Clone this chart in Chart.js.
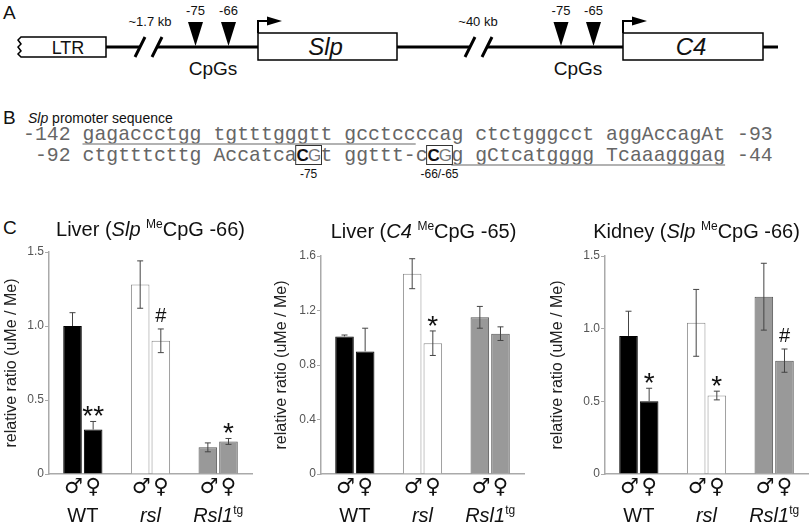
<!DOCTYPE html>
<html>
<head>
<meta charset="utf-8">
<script src="https://cdn.jsdelivr.net/npm/chart.js@4.4.1/dist/chart.umd.min.js"></script>
<style>
  body { margin: 0; background: #fff; }
  #wrap { position: relative; width: 812px; height: 526px; overflow: hidden; font-family: "Liberation Sans", Arial, sans-serif; }
  #wrap canvas { position: absolute; top: 190px; }
  .plbl { position: absolute; font-size: 19px; color: #111; }
</style>
</head>
<body>
<div id="wrap">
  <svg id="diag" width="812" height="190" style="position:absolute;left:0;top:0"></svg>
  <div class="plbl" style="left:3px;top:217px">C</div>
  <canvas id="c1" width="270" height="336" style="left:0"></canvas>
  <canvas id="c2" width="270" height="336" style="left:270px"></canvas>
  <canvas id="c3" width="272" height="336" style="left:540px"></canvas>
</div>
<script>
const FAMILY = '"Liberation Sans", Arial, sans-serif';

// ---- chart data (panel C) ----
const groups = ['WT', 'rsl', 'Rsl1'];
const sexes = ['\u2642', '\u2640'];

const liverSlpMale = [1.00, 1.28, 0.18];
const liverSlpMaleErr = [0.09, 0.16, 0.03];
const liverSlpFemale = [0.30, 0.90, 0.22];
const liverSlpFemaleErr = [0.055, 0.08, 0.02];
const liverSlpMarks = ['**', '#', '*'];

const liverC4Male = [1.01, 1.47, 1.15];
const liverC4MaleErr = [0.01, 0.11, 0.08];
const liverC4Female = [0.90, 0.96, 1.03];
const liverC4FemaleErr = [0.17, 0.09, 0.05];
const liverC4Marks = ['', '*', ''];

const kidneySlpMale = [0.95, 1.04, 1.22];
const kidneySlpMaleErr = [0.17, 0.23, 0.23];
const kidneySlpFemale = [0.50, 0.54, 0.78];
const kidneySlpFemaleErr = [0.09, 0.03, 0.08];
const kidneySlpMarks = ['*', '*', '#'];

const ticks15 = [0, 0.5, 1.0, 1.5];
const ticks16 = [0, 0.4, 0.8, 1.2, 1.6];

const fills = ['#000', '#fff', '#999'];
const strokes = ['#000', '#8a8a8a', '#555'];

// draws text made of pieces: [text, '' | 'i' | 'sup']
function drawRich(ctx, parts, cx, y, size) {
  const fontOf = p => (p[1] === 'i' ? 'italic ' : '') + (p[1] === 'sup' ? Math.round(size * 0.6) : size) + 'px ' + FAMILY;
  let w = 0;
  parts.forEach(p => { ctx.font = fontOf(p); w += ctx.measureText(p[0]).width; });
  let x = cx - w / 2;
  ctx.textAlign = 'left';
  ctx.textBaseline = 'alphabetic';
  parts.forEach(p => {
    ctx.font = fontOf(p);
    ctx.fillText(p[0], x, p[1] === 'sup' ? y - size * 0.38 : y);
    x += ctx.measureText(p[0]).width;
  });
}

const groupParts = [[['WT', '']], [['rsl', 'i']], [['Rsl1', 'i'], ['tg', 'sup']]];

const panelPlugin = {
  id: 'panelPlugin',
  afterDatasetsDraw(chart) {
    const ctx = chart.ctx, y = chart.scales.y;
    chart.data.datasets.forEach((ds, di) => {
      chart.getDatasetMeta(di).data.forEach((bar, i) => {
        const v = ds.data[i], e = ds.errors[i];
        const top = y.getPixelForValue(v + e);
        // on the black bars only the upper whisker shows
        const dark = fills[i] === '#000';
        const bot = dark ? bar.y : y.getPixelForValue(v - e);
        ctx.save();
        ctx.strokeStyle = '#444';
        ctx.lineWidth = 1;
        ctx.beginPath();
        ctx.moveTo(bar.x, top); ctx.lineTo(bar.x, bot);
        ctx.moveTo(bar.x - 3, top); ctx.lineTo(bar.x + 3, top);
        if (!dark) { ctx.moveTo(bar.x - 3, bot); ctx.lineTo(bar.x + 3, bot); }
        ctx.stroke();
        const m = ds.marks[i];
        if (m) {
          const size = m === '#' ? 20 : 28;
          ctx.font = size + 'px ' + FAMILY;
          ctx.fillStyle = '#111';
          ctx.textAlign = 'center';
          ctx.textBaseline = 'alphabetic';
          const mt = ctx.measureText(m);
          const gap = m === '#' ? 7 : 5;
          ctx.fillText(m, bar.x, top - gap - mt.actualBoundingBoxDescent);
        }
        ctx.restore();
      });
    });
  },
  afterDraw(chart, args, opts) {
    const ctx = chart.ctx, area = chart.chartArea, x = chart.scales.x;
    ctx.save();
    ctx.fillStyle = '#111';
    drawRich(ctx, opts.title, (area.left + area.right) / 2 + (opts.titleDx || 0), opts.titleY, 20);
    chart.data.datasets.forEach((ds, di) => {
      chart.getDatasetMeta(di).data.forEach(bar => {
        ctx.font = '21px "DejaVu Sans", sans-serif';
        ctx.textAlign = 'center';
        ctx.textBaseline = 'middle';
        ctx.fillText(sexes[di], bar.x + (di === 0 ? 1 : 0), area.bottom + 14);
      });
    });
    groupParts.forEach((p, i) => drawRich(ctx, p, x.getPixelForValue(i), area.bottom + 48, 20));
    ctx.restore();
  }
};

function makeChart(id, cfg) {
  new Chart(document.getElementById(id), {
    type: 'bar',
    data: {
      labels: groups,
      datasets: [
        { data: cfg.male, errors: cfg.maleErr, marks: ['', '', ''],
          backgroundColor: fills, borderColor: strokes, borderWidth: 1 },
        { data: cfg.female, errors: cfg.femaleErr, marks: cfg.marks,
          backgroundColor: fills, borderColor: strokes, borderWidth: 1 }
      ]
    },
    options: {
      responsive: false,
      animation: false,
      categoryPercentage: 0.61,
      barPercentage: 0.9,
      layout: { padding: { left: 0, top: cfg.top, right: cfg.right, bottom: 52 } },
      plugins: {
        legend: { display: false },
        tooltip: { enabled: false },
        panelPlugin: { title: cfg.title, titleY: cfg.titleY, titleDx: cfg.titleDx }
      },
      scales: {
        x: {
          ticks: { display: false },
          grid: { display: false },
          border: { color: '#aaa', width: 1.5 },
          afterFit: s => { s.height = 0; }
        },
        y: {
          min: 0,
          max: cfg.tickVals[cfg.tickVals.length - 1],
          afterBuildTicks: s => { s.ticks = cfg.tickVals.map(v => ({ value: v })); },
          ticks: {
            color: '#555',
            padding: 1,
            font: { size: 12, family: FAMILY },
            callback: v => v === 0 ? '0' : v.toFixed(1)
          },
          grid: { drawOnChartArea: false, drawTicks: true, tickLength: 4, color: '#aaa' },
          border: { color: '#aaa', width: 1.5 },
          title: {
            display: true,
            text: 'relative ratio (uMe / Me)',
            color: '#222',
            font: { size: 16, family: FAMILY },
            padding: { top: cfg.titlePad, bottom: 0 }
          },
          afterFit: s => { s.width = cfg.left; }
        }
      }
    },
    plugins: [panelPlugin]
  });
}

makeChart('c1', {
  male: liverSlpMale, maleErr: liverSlpMaleErr,
  female: liverSlpFemale, femaleErr: liverSlpFemaleErr, marks: liverSlpMarks,
  tickVals: ticks15, left: 49, right: 18, top: 62, titlePad: 2, titleY: 46, titleDx: 0,
  title: [['Liver (', ''], ['Slp', 'i'], [' ', ''], ['Me', 'sup'], ['CpG -66)', '']]
});
makeChart('c2', {
  male: liverC4Male, maleErr: liverC4MaleErr,
  female: liverC4Female, femaleErr: liverC4FemaleErr, marks: liverC4Marks,
  tickVals: ticks16, left: 51, right: 16, top: 66, titlePad: 2, titleY: 48, titleDx: 1,
  title: [['Liver (', ''], ['C4', 'i'], [' ', ''], ['Me', 'sup'], ['CpG -65)', '']]
});
makeChart('c3', {
  male: kidneySlpMale, maleErr: kidneySlpMaleErr,
  female: kidneySlpFemale, femaleErr: kidneySlpFemaleErr, marks: kidneySlpMarks,
  tickVals: ticks15, left: 65, right: 4, top: 66, titlePad: 8, titleY: 48, titleDx: -10,
  title: [['Kidney (', ''], ['Slp', 'i'], [' ', ''], ['Me', 'sup'], ['CpG -66)', '']]
});

// ---- panels A and B: gene map and promoter sequence (svg) ----
const svg = document.getElementById('diag');
const NS = 'http://www.w3.org/2000/svg';
function el(tag, attrs, text) {
  const e = document.createElementNS(NS, tag);
  for (const k in attrs) e.setAttribute(k, attrs[k]);
  if (text != null) e.textContent = text;
  svg.appendChild(e);
  return e;
}
const SANS = 'Liberation Sans, Arial, sans-serif';
function txt(x, y, s, size, extra) {
  return el('text', Object.assign({ x, y, 'font-family': SANS, 'font-size': size, 'text-anchor': 'middle', fill: '#111' }, extra || {}), s);
}

// panel A
txt(3, 19, 'A', 19, { 'text-anchor': 'start' });
el('path', { d: 'M106,37 L21,37 L18,40 L21,44 L18,47 L21,51 L18,54 L21,57 L106,57 Z', fill: '#fff', stroke: '#000', 'stroke-width': 1.5 });
txt(68, 54, 'LTR', 18);
[[106, 140], [157, 258], [397, 470], [487, 623], [763, 778]].forEach(s =>
  el('line', { x1: s[0], y1: 47, x2: s[1], y2: 47, stroke: '#000', 'stroke-width': 3 }));
[[135, 145], [152, 162], [465, 475], [482, 492]].forEach(s =>
  el('line', { x1: s[0], y1: 57, x2: s[1], y2: 37, stroke: '#000', 'stroke-width': 3 }));
txt(150, 26, '~1.7 kb', 13);
txt(478, 26, '~40 kb', 13);
[[195.5, '-75'], [228.5, '-66'], [561, '-75'], [593.5, '-65']].forEach(t => {
  el('polygon', { points: (t[0] - 7.5) + ',22 ' + (t[0] + 7.5) + ',22 ' + t[0] + ',46', fill: '#000' });
  txt(t[0], 15, t[1], 13);
});
txt(213, 75, 'CpGs', 19);
txt(578, 75, 'CpGs', 19);
[[258, 397, 'Slp'], [623, 763, 'C4']].forEach(b => {
  el('rect', { x: b[0], y: 33, width: b[1] - b[0], height: 27, fill: '#fff', stroke: '#000', 'stroke-width': 1.5 });
  txt((b[0] + b[1]) / 2 - 2, 55, b[2], 24, { 'font-style': 'italic' });
  el('path', { d: 'M' + b[0] + ',33 V21 H' + (b[0] + 11), fill: 'none', stroke: '#000', 'stroke-width': 2 });
  el('polygon', { points: (b[0] + 9) + ',16.5 ' + (b[0] + 24) + ',21 ' + (b[0] + 9) + ',25.5', fill: '#000' });
});

// panel B
txt(3, 124, 'B', 19, { 'text-anchor': 'start' });
const bt = txt(28, 123, '', 14, { 'text-anchor': 'start' });
const sp1 = document.createElementNS(NS, 'tspan'); sp1.setAttribute('font-style', 'italic'); sp1.textContent = 'Slp';
bt.appendChild(sp1); bt.appendChild(document.createTextNode(' promoter sequence'));

const X0 = 23, CW = 11.9;
const rows = [
  { y: 140, s: '-142 gagaccctgg tgtttgggtt gcctccccag ctctgggcct aggAccagAt -93' },
  { y: 161, s: ' -92 ctgtttcttg Accatca  t ggttt-c  g gCtcatgggg Tcaaagggag -44' }
];
rows.forEach(r => {
  for (let c = 0; c < r.s.length; c++) {
    if (r.s[c] === ' ') continue;
    el('text', { x: X0 + c * CW + CW / 2, y: r.y, 'font-family': 'Liberation Mono, Courier New, monospace',
      'font-size': 19.8, 'text-anchor': 'middle', fill: '#666' }, r.s[c]);
  }
});
el('line', { x1: X0 + 5 * CW, y1: 144, x2: X0 + 33 * CW, y2: 144, stroke: '#999', 'stroke-width': 1.5 });
el('line', { x1: X0 + 36 * CW, y1: 165, x2: X0 + 59 * CW, y2: 165, stroke: '#999', 'stroke-width': 1.5 });
[[23, '-75'], [34, '-66/-65']].forEach(b => {
  const bx = X0 + b[0] * CW;
  el('rect', { x: bx - 1, y: 145.5, width: 2 * CW + 2, height: 19, fill: 'none', stroke: '#333', 'stroke-width': 1 });
  txt(bx + CW / 2, 161, 'C', 17, { 'font-weight': 'bold' });
  txt(bx + CW * 1.5, 161, 'G', 17, { fill: '#777' });
  txt(bx + CW, 178, b[1], 12);
});
</script>
</body>
</html>
